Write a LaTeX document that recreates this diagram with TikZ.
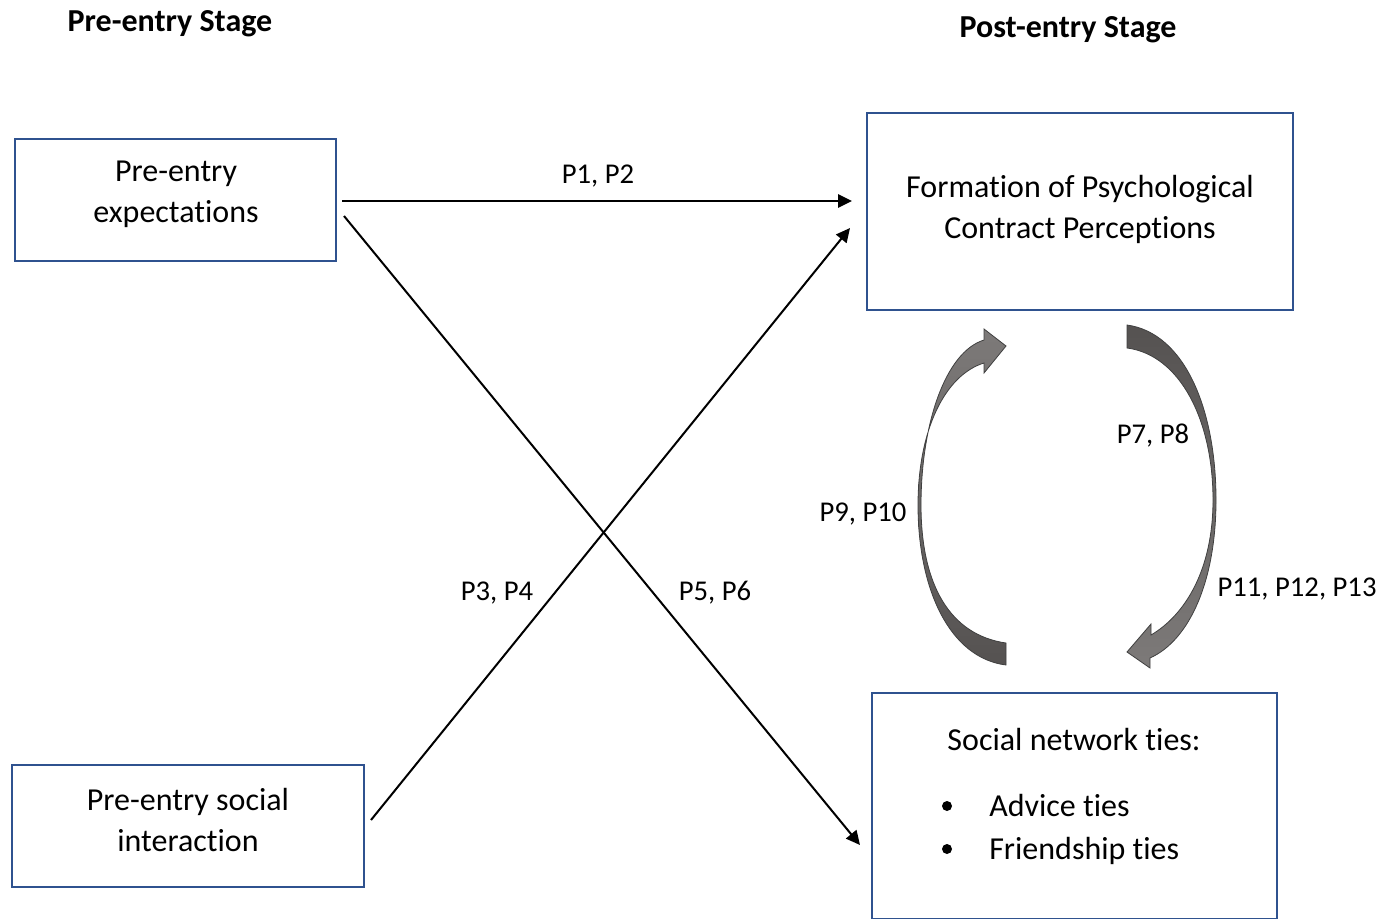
\documentclass[tikz,border=0pt]{standalone}
\usepackage{fontspec}
\setmainfont[RawFeature=-liga]{Carlito}
\usetikzlibrary{arrows.meta}
\definecolor{boxblue}{RGB}{47,82,143}
\definecolor{arrlight}{RGB}{125,122,121}
\definecolor{arrdark}{RGB}{85,82,81}
\begin{document}
\begin{tikzpicture}[x=0.75pt,y=-0.75pt,
  box/.style={draw=boxblue,line width=1.6pt,inner sep=0pt},
  boxtxt/.style={align=center,font=\fontsize{24}{30.75}\selectfont,inner sep=0pt},
  lbl/.style={font=\fontsize{21.5}{24}\selectfont,inner sep=0pt},
  title/.style={font=\fontsize{24}{26}\selectfont\bfseries,inner sep=0pt},
  conn/.style={line width=1.5pt,-{Triangle[length=10.5pt,width=10pt]}},
  blockarrow/.style={draw=black!75,line width=0.6pt}]
\useasboundingbox (0,0) rectangle (1387,919);
% titles
\node[title] (tpre) at (170,24) {Pre-entry Stage};
\node[title] (tpost) at (1068,30) {Post-entry Stage};
% boxes
\node[box,minimum width=240.75pt,minimum height=91.5pt] (exp) at (175.5,200) {};
\node[boxtxt] (expt) at (176,194) {Pre-entry\\expectations};
\node[box,minimum width=264pt,minimum height=91.5pt] (soc) at (188,826) {};
\node[boxtxt] (soct) at (188,820) {Pre-entry social\\interaction};
\node[box,minimum width=319.5pt,minimum height=147.75pt] (form) at (1080,211.5) {};
\node[boxtxt] (formt) at (1080,209) {Formation of Psychological\\Contract Perceptions};
\node[box,minimum width=303.75pt,minimum height=169.5pt] (net) at (1074.5,806) {};
\node[boxtxt,anchor=base] (nett) at (1074,750) {Social network ties:};
\node[boxtxt,anchor=base west] (adv) at (989,816) {Advice ties};
\node[boxtxt,anchor=base west] (fri) at (989,859) {Friendship ties};
\fill (947,806) circle (5) coordinate (b1);
\fill (947,849) circle (5) coordinate (b2);
% connector end points
\coordinate (e1s) at (342,201);
\coordinate (e1e) at (852,201);
\coordinate (e2s) at (344,216);
\coordinate (e2e) at (860,845);
\coordinate (e3s) at (371,820);
\coordinate (e3e) at (850,228);
\draw[conn] (e1s) -- (e1e);
\draw[conn] (e2s) -- (e2e);
\draw[conn] (e3s) -- (e3e);
% labels
\node[lbl] (l12) at (598,176) {P1, P2};
\node[lbl] (l34) at (497,593) {P3, P4};
\node[lbl] (l56) at (715,593) {P5, P6};
\node[lbl] (l78) at (1153,436) {P7, P8};
\node[lbl] (l910) at (863,514) {P9, P10};
\node[lbl] (l1113) at (1297,589) {P11, P12, P13};
% curved block arrows
\path[blockarrow,top color=arrlight,bottom color=arrdark]
  (1006,643) -- (1006,665)
  .. controls (950,658) and (918,590) .. (918,505)
  .. controls (918,430) and (945,375) .. (984,363)
  -- (984,373) -- (1006,346) -- (984,329) -- (984,340)
  .. controls (945,352) and (921,425) .. (921,505)
  .. controls (921,585) and (950,635) .. (1006,643) -- cycle;
\path[blockarrow,top color=arrdark,bottom color=arrlight]
  (1127,325) .. controls (1185,333) and (1216,410) .. (1216,500)
  .. controls (1216,580) and (1190,640) .. (1150,658)
  -- (1150,668) -- (1127,652) -- (1151,624) -- (1151,635)
  .. controls (1185,615) and (1213,570) .. (1213,500)
  .. controls (1213,420) and (1180,355) .. (1127,348) -- cycle;
\end{tikzpicture}
\end{document}
